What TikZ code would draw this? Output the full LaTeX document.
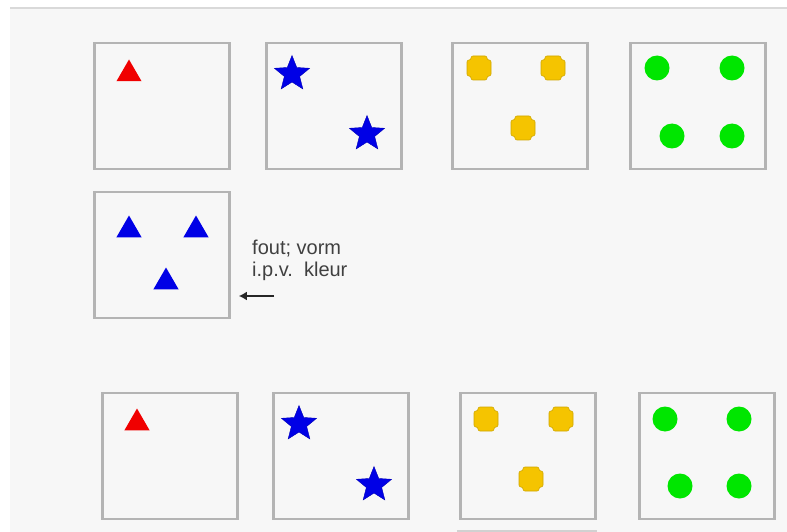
\documentclass[tikz,border=0pt]{standalone}
\usepackage{fontspec}
\setmainfont{Liberation Sans}
\usetikzlibrary{arrows.meta,shapes.geometric}

\definecolor{paper}{HTML}{F7F7F7}
\definecolor{cardline}{HTML}{B4B4B4}
\definecolor{shapered}{HTML}{F00000}
\definecolor{shapeblue}{HTML}{0000E6}
\definecolor{shapeyellow}{HTML}{F5C400}
\definecolor{shapegreen}{HTML}{00E600}

% yellow plus-shaped dot
\newcommand{\plusdot}[2]{%
  \filldraw[plusfill] (#1,#2) ++(-8,-12) -- ++(16,0) -- ++(0,4) -- ++(4,0)
    -- ++(0,16) -- ++(-4,0) -- ++(0,4) -- ++(-16,0) -- ++(0,-4) -- ++(-4,0)
    -- ++(0,-16) -- ++(4,0) -- cycle;}

\begin{document}
\begin{tikzpicture}[x=1pt,y=-1pt,
  card/.style={draw=cardline,line width=2.6pt,fill=paper,minimum width=135pt,
    minimum height=126pt,inner sep=0pt},
  tri/.style={regular polygon,regular polygon sides=3,minimum size=29pt,inner sep=0pt},
  ster/.style={star,star points=5,star point ratio=2.3,minimum size=37pt,
    inner sep=0pt,fill=shapeblue,draw=shapeblue!80!black,line width=0.4pt},
  dot/.style={circle,minimum size=25pt,inner sep=0pt,fill=shapegreen},
  plusfill/.style={fill=shapeyellow,draw=shapeyellow!85!black,line width=0.6pt,rounded corners=2pt},
  note/.style={font=\fontsize{20}{22}\selectfont,text=black!75,inner sep=0pt},
  arrowline/.style={-{Latex[length=8pt,width=9pt]},line width=2.4pt,black!85}]

% page and top rule
\useasboundingbox (0,0) rectangle (787,532);
\fill[paper] (10,9) rectangle (787,532);
\draw[line width=2pt,black!15] (10,8) -- (787,8);

% cards
\foreach \n/\x/\y in {A/162/106,B/334/106,C/520/106,D/698/106,E/162/255,
                      F/170/456,G/341/456,H/528/456,I/707/456}
    \node[card] (\n) at (\x,\y) {};
\node[card,draw=black!18,minimum width=137pt] (J) at (527,594) {};

% triangles
\node[tri,fill=shapered] (triA) at (129,74) {};
\node[tri,fill=shapered] (triF) at (137,423) {};
\foreach \i/\x/\y in {1/129/230,2/196/230,3/166/282}
    \node[tri,fill=shapeblue] (triE\i) at (\x,\y) {};

% stars
\foreach \i/\x/\y in {1/292/74,2/367/134,3/299/424,4/374/485}
    \node[ster] (ster\i) at (\x,\y) {};

% yellow dots
\foreach \x/\y in {479/68,553/68,523/128,486/419,561/419,531/479}
    {\plusdot{\x}{\y}}

% green dots
\foreach \i/\x/\y in {1/657/68,2/732/68,3/672/136,4/732/136,
                      5/665/419,6/739/419,7/680/486,8/739/486}
    \node[dot] (dot\i) at (\x,\y) {};

% remark at second row
\node[note,anchor=base west] (foutA) at (252,254) {fout; vorm};
\node[note,anchor=base west] (foutB) at (252,276) {i.p.v.\ \ kleur};
\coordinate (tail) at (274,296);
\draw[arrowline,shorten >=8pt] (tail) -- (tail -| E.east);

\end{tikzpicture}
\end{document}
